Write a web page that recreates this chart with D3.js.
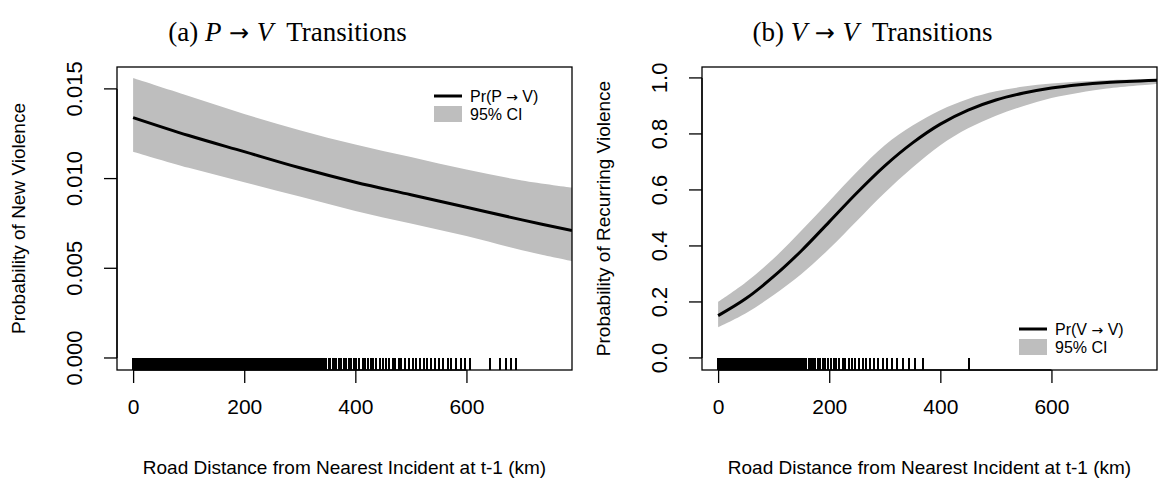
<!DOCTYPE html>
<html>
<head>
<meta charset="utf-8">
<script src="https://cdn.jsdelivr.net/npm/d3@7"></script>
<style>
  body { margin: 0; background: #fff; }
  svg text { font-family: "Liberation Sans", Arial, sans-serif; }
</style>
</head>
<body>
<script>
var w = 1159, h = 483;

// ---- panel (a): P -> V ----
var distA  = [0, 100, 200, 300, 400, 500, 600, 700, 790];
var meanA  = [0.0134, 0.0124, 0.0115, 0.0106, 0.0098, 0.0091, 0.0084, 0.0077, 0.0071];
var upperA = [0.0156, 0.0146, 0.0136, 0.0127, 0.0119, 0.0112, 0.0105, 0.0099, 0.0095];
var lowerA = [0.0115, 0.0106, 0.0098, 0.0090, 0.0082, 0.0075, 0.0068, 0.0060, 0.0054];
var ticksYA = [0, 0.005, 0.010, 0.015];
var rugA = [0,2,5,7,9,12,14,17,19,22,24,27,29,31,34,36,39,41,44,46,49,51,53,56,58,61,63,66,68,71,
  73,75,78,80,83,85,88,90,93,95,97,100,102,105,107,110,112,115,117,119,122,124,127,129,132,134,137,
  139,141,144,146,149,151,154,156,159,161,163,166,168,171,173,176,178,181,183,185,188,190,193,195,
  198,200,203,205,207,210,212,215,217,220,222,225,227,229,232,234,237,239,242,244,247,249,251,254,
  256,259,261,264,266,269,271,273,276,278,281,283,286,288,291,293,295,298,301,304,306,309,312,315,
  318,321,324,327,330,333,336,339,342,345,348,352,355,359,362,366,371,375,380,384,389,393,398,402,
  407,413,418,423,428,432,438,444,449,455,461,467,472,478,483,490,496,503,510,516,523,529,536,544,
  551,558,566,573,581,590,598,606,643,661,672,681,690];

// ---- panel (b): V -> V ----
var distB  = [0, 50, 100, 150, 200, 250, 300, 350, 400, 450, 500, 550, 600, 650, 700, 790];
var meanB  = [0.151, 0.212, 0.291, 0.383, 0.486, 0.59, 0.686, 0.768, 0.835, 0.885, 0.921, 0.946, 0.964, 0.976, 0.984, 0.992];
var upperB = [0.20, 0.27, 0.355, 0.455, 0.56, 0.665, 0.76, 0.83, 0.885, 0.925, 0.952, 0.969, 0.98, 0.987, 0.992, 0.996];
var lowerB = [0.11, 0.16, 0.225, 0.30, 0.39, 0.49, 0.59, 0.68, 0.76, 0.82, 0.865, 0.90, 0.928, 0.947, 0.962, 0.978];
var ticksYB = [0, 0.2, 0.4, 0.6, 0.8, 1.0];
var rugB = [0,2,5,7,10,12,15,17,20,22,25,27,30,32,35,37,40,42,45,47,50,52,55,57,60,62,65,67,70,72,75,
  77,80,82,85,87,90,92,95,97,100,102,105,108,111,114,117,120,123,126,129,132,135,138,141,144,147,151,
  155,159,163,167,171,175,180,184,189,193,198,203,208,213,218,224,229,235,241,247,253,260,266,273,
  280,288,296,304,313,322,332,343,355,368,451];

var ticksX = [0, 200, 400, 600];
var xLabel = "Road Distance from Nearest Incident at t-1 (km)";

var svg = d3.select("body").append("svg")
  .attr("width", w)
  .attr("height", h);

function panel(cfg) {
  var g = svg.append("g");
  var left = cfg.left, right = cfg.left + 455, top = 67, bottom = 370;

  var x = d3.scaleLinear().domain([-29, 790]).range([left, right]);
  var y = d3.scaleLinear().domain(cfg.ydomain).range([bottom, top]);

  var clip = "clip" + cfg.id;
  g.append("clipPath").attr("id", clip)
    .append("rect").attr("x", left).attr("y", top).attr("width", right - left).attr("height", bottom - top);

  var pts = cfg.dist.map((d, i) => ({ d: d, m: cfg.mean[i], lo: cfg.lower[i], hi: cfg.upper[i] }));
  var curve = d3.curveCatmullRom.alpha(0.5);

  g.append("path").datum(pts)
    .attr("clip-path", "url(#" + clip + ")")
    .attr("fill", "#bebebe")
    .attr("d", d3.area().curve(curve).x(d => x(d.d)).y0(d => y(d.lo)).y1(d => y(d.hi)));

  g.append("path").datum(pts)
    .attr("clip-path", "url(#" + clip + ")")
    .attr("fill", "none").attr("stroke", "#000").attr("stroke-width", 3)
    .attr("d", d3.line().curve(curve).x(d => x(d.d)).y(d => y(d.m)));

  // rug
  g.selectAll(".rug").data(cfg.rug).enter().append("line")
    .attr("x1", d => x(d)).attr("x2", d => x(d))
    .attr("y1", bottom).attr("y2", bottom - 12)
    .attr("stroke", "#000").attr("stroke-width", 2)
    .attr("shape-rendering", "crispEdges");

  // box
  g.append("rect").attr("x", left).attr("y", top)
    .attr("width", right - left).attr("height", bottom - top)
    .attr("fill", "none").attr("stroke", "#000").attr("stroke-width", 1.3);

  // axes
  var xAxis = d3.axisBottom(x).tickValues(ticksX).tickSize(13).tickPadding(16).tickFormat(d3.format("d"));
  var gx = g.append("g").attr("transform", `translate(0, ${bottom})`).call(xAxis);
  gx.select(".domain").attr("d", `M${x(0)},0H${x(600)}`).attr("stroke-width", 1.3);
  gx.selectAll(".tick line").attr("stroke-width", 1.3);
  gx.selectAll("text").attr("font-size", "21px").attr("font-family", "Liberation Sans, Arial, sans-serif").attr("fill", "#000");

  var yAxis = d3.axisLeft(y).tickValues(cfg.yticks).tickSize(13).tickFormat(d3.format(cfg.yfmt));
  var gy = g.append("g").attr("transform", `translate(${left}, 0)`).call(yAxis);
  gy.select(".domain").attr("stroke-width", 1.3)
    .attr("d", `M0,${y(cfg.yticks[0])}V${y(cfg.yticks[cfg.yticks.length - 1])}`);
  gy.selectAll(".tick line").attr("stroke-width", 1.3);
  gy.selectAll("text")
    .attr("font-size", "22px").attr("font-family", "Liberation Sans, Arial, sans-serif").attr("fill", "#000")
    .attr("x", null).attr("dy", null)
    .attr("text-anchor", "middle")
    .attr("transform", d => `translate(-43, ${y(d)}) rotate(-90)`)
    .attr("y", 0).attr("dy", "0.35em");
  gy.selectAll(".tick").attr("transform", null);
  gy.selectAll(".tick line").attr("transform", d => `translate(0, ${y(d)})`);

  // axis titles
  g.append("text").attr("x", (left + right) / 2).attr("y", 474)
    .attr("text-anchor", "middle").attr("font-size", "19px").text(xLabel);
  g.append("text")
    .attr("transform", `translate(${left - 99}, ${(top + bottom) / 2}) rotate(-90)`)
    .attr("text-anchor", "middle").attr("dy", "0.35em").attr("font-size", "19px").text(cfg.ylab);

  // title
  var t = g.append("text").attr("x", (left + right) / 2 - 57).attr("y", 41)
    .attr("text-anchor", "middle").attr("font-size", "27px")
    .style("font-family", "'Liberation Serif', 'DejaVu Serif', serif");
  t.append("tspan").text(cfg.tag + " ");
  t.append("tspan").attr("font-style", "italic").text(cfg.from);
  t.append("tspan").style("font-family", "'DejaVu Sans', sans-serif").attr("font-size", "24px").text(" \u2192 ");
  t.append("tspan").attr("font-style", "italic").text("V");
  t.append("tspan").text("\u00a0 Transitions");

  // legend
  var lg = g.append("g").attr("transform", `translate(${left + cfg.legX}, ${cfg.legY})`);
  lg.append("line").attr("x1", 0).attr("x2", 28).attr("y1", 0).attr("y2", 0)
    .attr("stroke", "#000").attr("stroke-width", 3);
  var lt = lg.append("text").attr("x", 36).attr("y", 0).attr("dy", "0.35em").attr("font-size", "16px");
  lt.append("tspan").text("Pr(" + cfg.from + " ");
  lt.append("tspan").style("font-family", "'DejaVu Sans', sans-serif").attr("font-size", "14px").text("\u2192");
  lt.append("tspan").text(" V)");
  lg.append("rect").attr("x", 0).attr("y", 10).attr("width", 28).attr("height", 16).attr("fill", "#bebebe");
  lg.append("text").attr("x", 36).attr("y", 18).attr("dy", "0.35em").attr("font-size", "16px")
    .text("95% CI");
}

panel({ id: "a", left: 117, ydomain: [-0.00067, 0.01622], yticks: ticksYA, yfmt: ".3f",
  dist: distA, mean: meanA, upper: upperA, lower: lowerA, rug: rugA,
  ylab: "Probability of New Violence", tag: "(a)", from: "P", legX: 317, legY: 96 });

panel({ id: "b", left: 702, ydomain: [-0.043, 1.039], yticks: ticksYB, yfmt: ".1f",
  dist: distB, mean: meanB, upper: upperB, lower: lowerB, rug: rugB,
  ylab: "Probability of Recurring Violence", tag: "(b)", from: "V", legX: 317, legY: 329 });
</script>
</body>
</html>
